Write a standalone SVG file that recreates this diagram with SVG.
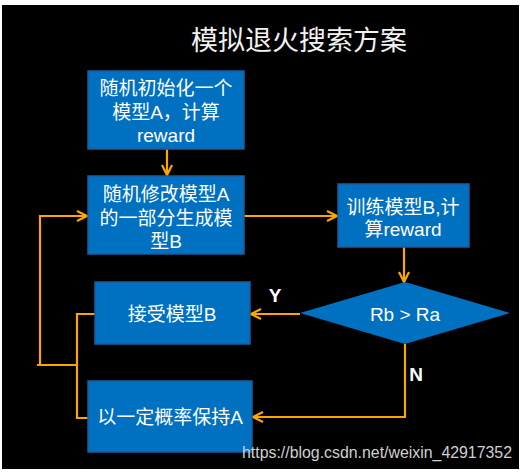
<svg xmlns="http://www.w3.org/2000/svg" width="523" height="473" viewBox="0 0 523 473">
<defs>
<style>
.box{fill:#0070C0;stroke:#1a5e9e;stroke-width:1.5}
.t{fill:#ffffff;font-family:"Liberation Sans","Noto Sans CJK SC",sans-serif;font-size:19px;text-anchor:middle}
.c{fill:none;stroke:#FFA500;stroke-width:2.2}
.lbl{fill:#ffffff;font-family:"Liberation Sans","Noto Sans CJK SC",sans-serif;font-size:19px;font-weight:bold;text-anchor:middle}
</style>
<marker id="ah" viewBox="0 0 12 12" refX="11" refY="6" markerWidth="12" markerHeight="12" markerUnits="userSpaceOnUse" orient="auto">
<path d="M1,1 L11,6 L1,11" fill="none" stroke="#FFA500" stroke-width="2.2"/>
</marker>
</defs>
<rect x="0" y="0" width="523" height="473" fill="#ffffff"/>
<rect x="2" y="5" width="517" height="464" fill="#000000"/>
<text x="299" y="50" fill="#f2f2f2" font-family="Noto Sans CJK SC,sans-serif" font-size="27" text-anchor="middle">模拟退火搜索方案</text>
<g id="connectors">
<line class="c" x1="167" y1="149" x2="167" y2="175" marker-end="url(#ah)"/>
<line class="c" x1="244" y1="216" x2="337" y2="216" marker-end="url(#ah)"/>
<line class="c" x1="404" y1="247" x2="404" y2="282" marker-end="url(#ah)"/>
<line class="c" x1="300" y1="314" x2="251" y2="314" marker-end="url(#ah)"/>
<polyline class="c" points="405,344 405,417 253,417" marker-end="url(#ah)"/>
<polyline class="c" points="95,314 77,314 77,418 88,418"/>
<line class="c" x1="37" y1="365" x2="77" y2="365"/>
<polyline class="c" points="40,365 40,216 87,216" marker-end="url(#ah)"/>
<text class="lbl" x="275" y="302">Y</text>
<text class="lbl" x="416" y="381">N</text>
</g>
<g id="n1">
<rect class="box" x="88" y="71" width="156" height="78"/>
<text class="t" x="166" y="95">随机初始化一个</text>
<text class="t" x="166" y="119">模型A，计算</text>
<text class="t" x="166" y="142">reward</text>
</g>
<g id="n2">
<rect class="box" x="88" y="176" width="156" height="78"/>
<text class="t" x="166" y="201">随机修改模型A</text>
<text class="t" x="166" y="225">的一部分生成模</text>
<text class="t" x="166" y="248">型B</text>
</g>
<g id="n3">
<rect class="box" x="338" y="184" width="131" height="63"/>
<text class="t" x="403" y="214">训练模型B,计</text>
<text class="t" x="403" y="236">算reward</text>
</g>
<g id="n4">
<polygon points="300,313 405,282 510,313 405,344" fill="#0070C0"/>
<text class="t" x="405" y="321" font-size="20">Rb &gt; Ra</text>
</g>
<g id="n5">
<rect class="box" x="95" y="282" width="155" height="62"/>
<text class="t" x="172" y="321">接受模型B</text>
</g>
<g id="n6">
<rect class="box" x="88" y="381" width="164" height="71"/>
<text class="t" x="170" y="424">以一定概率保持A</text>
</g>
<text x="512" y="458" fill="#d0d0d0" font-family="Liberation Sans,sans-serif" font-size="16" textLength="270" lengthAdjust="spacingAndGlyphs" text-anchor="end">https://blog.csdn.net/weixin_42917352</text>
</svg>
